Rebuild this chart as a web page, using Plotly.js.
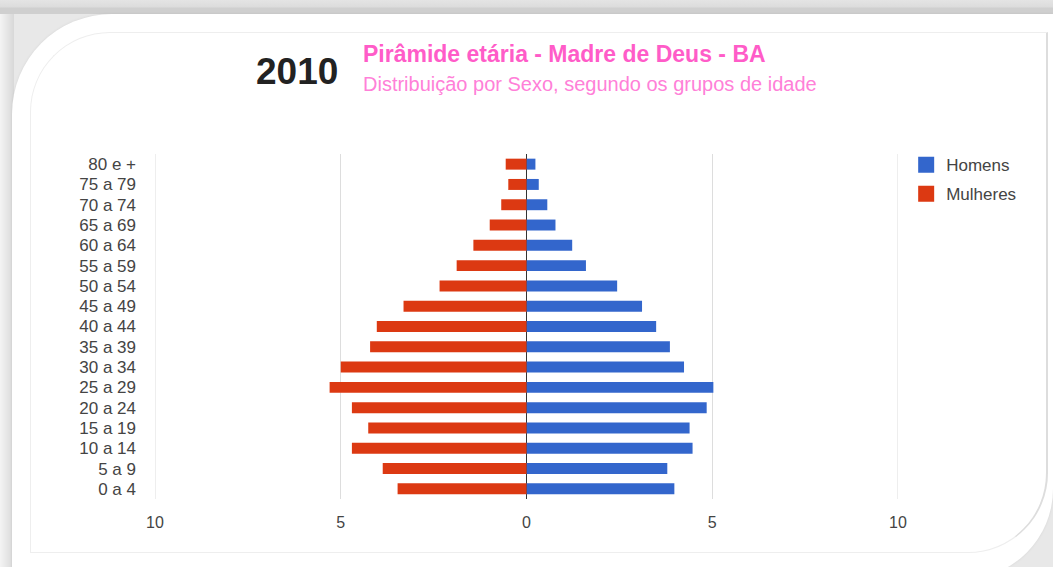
<!DOCTYPE html>
<html>
<head>
<meta charset="utf-8">
<script src="https://cdn.plot.ly/plotly-3.0.1.min.js"></script>
<style>
  html, body { margin: 0; padding: 0; width: 1053px; height: 567px; overflow: hidden; }
  body { background: linear-gradient(to bottom, #e4e4e4 0px, #dcdcdc 7px, #cfcfcf 8px, #cfcfcf 14px, #e8e8e8 14px); position: relative; }
  #left { position:absolute; left:0; top:14px; width:14px; height:553px; background: linear-gradient(to right, #f4f4f4, #d8d8d8); }
  #panel { position:absolute; left:12px; top:14px; right:0; bottom:-12px; background:#fff; border-radius:100px 0 90px 0; box-shadow: 0 0 3px rgba(0,0,0,0.08); }
  #inner { position:absolute; left:30px; top:32px; width:1015px; height:519px; border:1px solid #eeeeee; border-right:2px solid #dddddd; border-radius:80px 0 80px 0; }
  #chart { position:absolute; left:0; top:0; width:1053px; height:567px; }
</style>
</head>
<body>
<div id="left"></div>
<div id="panel"></div>
<div id="inner"></div>
<div id="chart"></div>
<script>
// Data (bottom to top)
const ageGroups = ["0 a 4","5 a 9","10 a 14","15 a 19","20 a 24","25 a 29","30 a 34","35 a 39","40 a 44","45 a 49","50 a 54","55 a 59","60 a 64","65 a 69","70 a 74","75 a 79","80 e +"];
const homens   = [3.98, 3.79, 4.47, 4.39, 4.85, 5.03, 4.24, 3.86, 3.49, 3.11, 2.44, 1.60, 1.23, 0.78, 0.56, 0.33, 0.24];
const mulheres = [3.47, 3.87, 4.70, 4.26, 4.70, 5.30, 5.00, 4.21, 4.03, 3.31, 2.34, 1.88, 1.43, 0.99, 0.68, 0.49, 0.56];
const xTickVals = [-10, -5, 0, 5, 10];
const xTickText = ["10", "5", "0", "5", "10"];
const seriesNames = ["Homens", "Mulheres"];
const seriesColors = ["#3366cc", "#dc3912"];

const FONT = "Arial, 'Liberation Sans', sans-serif";

const traces = [
  {
    type: "bar", orientation: "h", name: seriesNames[0],
    y: ageGroups, x: homens,
    marker: { color: seriesColors[0] },
    showlegend: false, hoverinfo: "y+x"
  },
  {
    type: "bar", orientation: "h", name: seriesNames[1],
    y: ageGroups, x: mulheres.map(v => -v),
    customdata: mulheres,
    marker: { color: seriesColors[1] },
    showlegend: false, hovertemplate: "%{y}: %{customdata}<extra>Mulheres</extra>"
  },
  // legend entries (square swatches)
  {
    type: "scatter", mode: "markers", name: seriesNames[0],
    x: [null], y: [null],
    marker: { symbol: "square", size: 16, color: seriesColors[0] },
    legendgroup: "h", hoverinfo: "skip"
  },
  {
    type: "scatter", mode: "markers", name: seriesNames[1],
    x: [null], y: [null],
    marker: { symbol: "square", size: 16, color: seriesColors[1] },
    legendgroup: "m", hoverinfo: "skip"
  }
];

// grid lines at the outer ticks (Plotly omits grid lines at the range edges)
const edgeGrid = [xTickVals[0], xTickVals[xTickVals.length - 1]].map(v => ({
  type: "line", layer: "below", xref: "x", yref: "paper",
  x0: v, x1: v, y0: 0, y1: 1,
  line: { color: "#dddddd", width: 1 }
}));

const layout = {
  width: 1053, height: 567,
  paper_bgcolor: "rgba(0,0,0,0)",
  plot_bgcolor: "rgba(0,0,0,0)",
  margin: { l: 155, r: 155, t: 154, b: 68 },
  barmode: "relative",
  bargap: 0.46,
  font: { family: FONT, color: "#444", size: 16 },
  xaxis: {
    range: [-10, 10],
    tickvals: xTickVals, ticktext: xTickText,
    showgrid: true, gridcolor: "#dddddd", gridwidth: 1,
    zeroline: true, zerolinecolor: "#333333", zerolinewidth: 1,
    showline: false, ticks: "",
    ticklabelstandoff: 12,
    tickfont: { size: 16, color: "#444" },
    fixedrange: true
  },
  yaxis: {
    type: "category",
    categoryorder: "array", categoryarray: ageGroups,
    showgrid: false, zeroline: false, showline: false, ticks: "",
    ticklabelstandoff: 18,
    tickfont: { size: 17, color: "#444" },
    fixedrange: true
  },
  legend: {
    x: 1.011, xanchor: "left", y: 1.02, yanchor: "top",
    font: { size: 17, color: "#444" },
    traceorder: "grouped", tracegroupgap: 4,
    bgcolor: "rgba(0,0,0,0)"
  },
  shapes: edgeGrid,
  annotations: [
    { text: "<b>2010</b>", xref: "paper", yref: "paper", x: 0.249, y: 1.238, xanchor: "right", yanchor: "middle", showarrow: false, font: { family: FONT, size: 37, color: "#222" } },
    { text: "<b>Pirâmide etária - Madre de Deus - BA</b>", xref: "paper", yref: "paper", x: 0.277, y: 1.29, xanchor: "left", yanchor: "middle", showarrow: false, font: { family: FONT, size: 23, color: "#ff5cc8" } },
    { text: "Distribuição por Sexo, segundo os grupos de idade", xref: "paper", yref: "paper", x: 0.277, y: 1.203, xanchor: "left", yanchor: "middle", showarrow: false, font: { family: FONT, size: 20, color: "#ff80d8" } }
  ],
  showlegend: true
};

Plotly.newPlot("chart", traces, layout, { displayModeBar: false });
</script>
</body>
</html>
